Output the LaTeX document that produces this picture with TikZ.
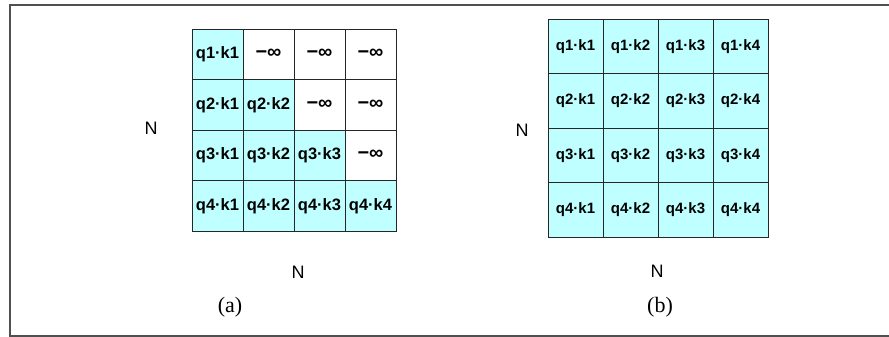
\documentclass[tikz,border=0pt]{standalone}
\usepackage{fontspec}
\setmainfont{Liberation Serif}
\newfontfamily\helv{Liberation Sans}
\definecolor{cellcyan}{HTML}{C0FFFF}
\definecolor{framegray}{HTML}{505050}
\tikzset{>=latex}

\begin{document}
\begin{tikzpicture}[x=1pt,y=-1pt,
    cell/.style={draw=black!85,line width=0.8pt,inner sep=0pt},
    masked/.style={cell,fill=white},
    kept/.style={cell,fill=cellcyan},
    cellsa/.style={minimum width=51pt,minimum height=50.5pt,font=\helv\bfseries\fontsize{16.5}{18}\selectfont},
    cellsb/.style={minimum width=55pt,minimum height=54.5pt,font=\helv\bfseries\fontsize{15}{17}\selectfont},
    neginf/.style={font=\helv\bfseries\fontsize{20}{24}\selectfont},
    dimlabel/.style={font=\helv\fontsize{18}{21}\selectfont},
    caption/.style={font=\fontsize{22}{26}\selectfont}]
    \useasboundingbox (0,0) rectangle (889,337);
    % Outer frame (open on the right)
    \draw[framegray,line width=1.3pt] (900,5) -- (10,5) -- (10,336) -- (900,336);
    % Causal mask: scores above the diagonal become -inf
    \foreach \r in {1,...,4} {
        \foreach \c in {1,...,4} {
            \ifnum\c>\r
                \node[masked,cellsa,neginf] (a-\r-\c) at ({192+51*(\c-0.5)},{29+50.5*(\r-0.5)}) {−∞};
            \else
                \node[kept,cellsa] (a-\r-\c) at ({192+51*(\c-0.5)},{29+50.5*(\r-0.5)}) {q\r·k\c};
            \fi
        }
    }
    % Full attention: every query sees every key
    \foreach \r in {1,...,4} {
        \foreach \c in {1,...,4} {
            \node[kept,cellsb] (b-\r-\c) at ({548+55*(\c-0.5)},{19+54.5*(\r-0.5)}) {q\r·k\c};
        }
    }
    % Dimension labels
    \node[dimlabel] (na-rows) at (151,128) {N};
    \node[dimlabel] (na-cols) at (298,272) {N};
    \node[dimlabel] (nb-rows) at (522,130) {N};
    \node[dimlabel] (nb-cols) at (657,271) {N};
    % Captions
    \node[caption] (cap-a) at (230,307) {(a)};
    \node[caption] (cap-b) at (660,307) {(b)};
\end{tikzpicture}
\end{document}
